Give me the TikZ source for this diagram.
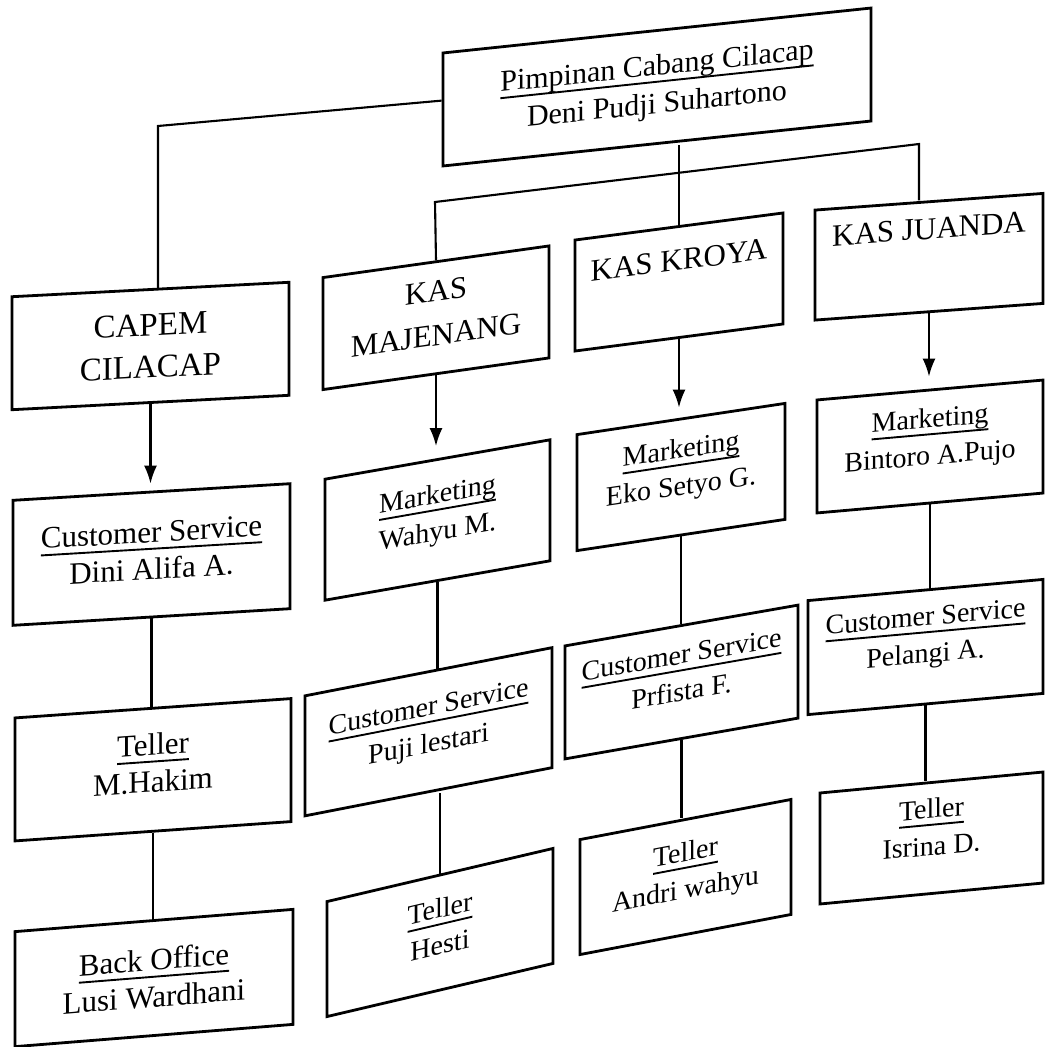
\documentclass[tikz,border=0pt]{standalone}
\usepackage{fontspec}
\setmainfont{Liberation Serif}
\usetikzlibrary{arrows.meta}

% extra depth below the last line: moves the text block up by half the amount
\newcommand\lift[1]{\rule[-#1pt]{0pt}{0pt}}
% heavier underline for the unit titles
\newcommand\ul[1]{\setbox0\hbox{#1}\rlap{\rule[-7.5pt]{\wd0}{1.9pt}}\box0}

\tikzset{
  unitbox/.style={draw=black, line width=2.8pt, fill=white, align=center,
    inner sep=0pt, font=\fontsize{28}{37}\selectfont},
  wide/.style={font=\fontsize{31}{37}\selectfont},
  head/.style={font=\fontsize{31}{44}\selectfont},
  link/.style={draw=black, line width=2.1pt},
  arr/.style={link, -{Latex[length=18pt,width=13pt]}, shorten >=9pt}
}

\begin{document}
\begin{tikzpicture}[x=1pt, y=-1pt]
\useasboundingbox[fill=white] (0,0) rectangle (1047,1047);

% head of the branch
\node[unitbox, font=\fontsize{30}{38}\selectfont, yslant=0.105,
      minimum width=428pt, minimum height=113pt] (pimp) at (657,87)
  {\ul{Pimpinan Cabang Cilacap}\\Deni Pudji Suhartono\lift{4}};

% sub-branch and cash offices
\node[unitbox, font=\fontsize{33}{42}\selectfont, yslant=0.052,
      minimum width=277pt, minimum height=113pt] (capem) at (150.5,346)
  {CAPEM\\CILACAP};
\node[unitbox, head, yslant=0.14,
      minimum width=226pt, minimum height=112pt] (maj) at (436,317.75)
  {KAS\\MAJENANG\lift{9}};
\node[unitbox, head, yslant=0.13,
      minimum width=208pt, minimum height=111pt] (kroya) at (679,282)
  {KAS KROYA\lift{44}};
\node[unitbox, head, yslant=0.073,
      minimum width=228pt, minimum height=110pt] (juanda) at (929,256.75)
  {KAS JUANDA\lift{56}};

% second level
\node[unitbox, wide, yslant=0.06,
      minimum width=277pt, minimum height=125pt] (dini) at (151.5,554.5)
  {\ul{Customer Service}\\Dini Alifa A.\lift{8}};
\node[unitbox, yslant=0.175,
      minimum width=225pt, minimum height=121pt] (wahyu) at (437.5,520)
  {\ul{Marketing}\\Wahyu M.\lift{16}};
\node[unitbox, yslant=0.15,
      minimum width=208pt, minimum height=116pt] (eko) at (681,477)
  {\ul{Marketing}\\Eko Setyo G.\lift{20}};
\node[unitbox, yslant=0.088,
      minimum width=226pt, minimum height=113pt] (bintoro) at (930,446.5)
  {\ul{Marketing}\\Bintoro A.Pujo\lift{20}};

% third level
\node[unitbox, wide, yslant=0.07,
      minimum width=276pt, minimum height=123pt] (hakim) at (153,769.75)
  {\ul{Teller}\\M.Hakim\lift{14}};
\node[unitbox, yslant=0.195,
      minimum width=247pt, minimum height=120pt] (puji) at (428.5,731.75)
  {\ul{Customer Service}\\Puji lestari\lift{14}};
\node[unitbox, yslant=0.175,
      minimum width=233pt, minimum height=113pt] (prfista) at (681.5,682)
  {\ul{Customer Service}\\Prfista F.\lift{18}};
\node[unitbox, yslant=0.09,
      minimum width=235pt, minimum height=114pt] (pelangi) at (925.5,647)
  {\ul{Customer Service}\\Pelangi A.\lift{24}};

% fourth level
\node[unitbox, wide, yslant=0.08,
      minimum width=278pt, minimum height=115pt] (back) at (154,978)
  {\ul{Back Office}\\Lusi Wardhani};
\node[unitbox, yslant=0.235,
      minimum width=226pt, minimum height=115pt] (hesti) at (440,932.5)
  {\ul{Teller}\\Hesti\lift{12}};
\node[unitbox, yslant=0.19,
      minimum width=211pt, minimum height=115pt] (andri) at (685.5,877)
  {\ul{Teller}\\Andri wahyu\lift{14}};
\node[unitbox, yslant=0.094,
      minimum width=223pt, minimum height=111pt] (isrina) at (931.5,838)
  {\ul{Teller}\\Isrina D.\lift{22}};

% bends of the upper connectors
\coordinate (capemturn) at (158,126);
\coordinate (busL) at (435,202);
\coordinate (busR) at (919,144);

% head to the sub-branch and the cash offices
\draw[link] ([yshift=9pt]pimp.west) -- (capemturn) -- (capemturn |- capem.north);
\draw[link] (kroya.north) -- (kroya.north |- pimp.south);
\draw[link] (maj.north) -- (busL) -- (busR) -- (busR |- juanda.north);

% offices to their first unit
\draw[arr, shorten >=7pt] (capem.south) -- (capem.south |- dini.north);
\draw[arr, shorten >=12pt] (maj.south) -- (maj.south |- wahyu.north);
\draw[arr, shorten >=10pt] (kroya.south) -- (kroya.south |- eko.north);
\draw[arr, shorten >=12pt] (juanda.south) -- (juanda.south |- bintoro.north);

% chains of units
\draw[link] (dini.south) -- (dini.south |- hakim.north);
\draw[link] (hakim.south) -- (hakim.south |- back.north);
\draw[link] (wahyu.south) -- (wahyu.south |- puji.north);
\draw[link] (hesti.north) -- (hesti.north |- puji.south);
\draw[link] (eko.south) -- (eko.south |- prfista.north);
\draw[link] (prfista.south) -- (prfista.south |- andri.north);
\draw[link] (bintoro.south) -- (bintoro.south |- pelangi.north);
\draw[link] (pelangi.south) -- (pelangi.south |- isrina.north);
\end{tikzpicture}
\end{document}
